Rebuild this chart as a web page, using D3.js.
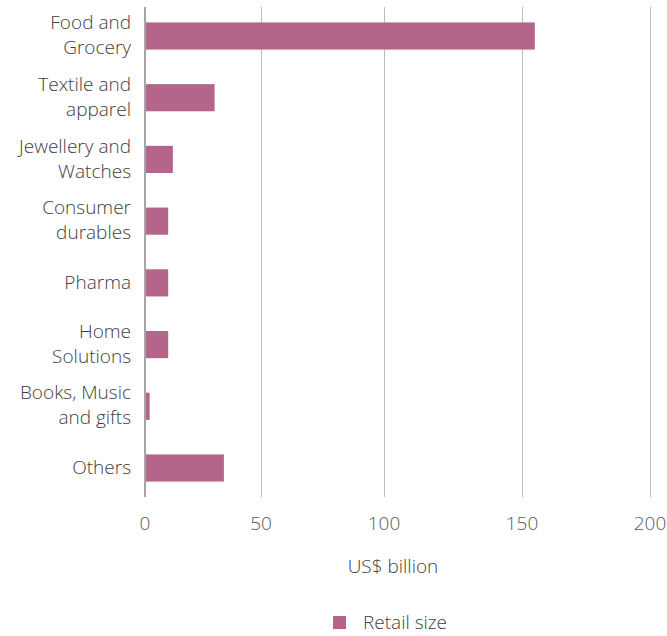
<!DOCTYPE html>
<html>
<head>
<meta charset="utf-8">
<script src="https://cdn.jsdelivr.net/npm/d3@7"></script>
<style>
  html, body { margin: 0; padding: 0; background: #fff; }
  svg { display: block; font-family: "Open Sans", sans-serif; font-weight: 300; }
</style>
</head>
<body>
<svg id="chart" width="667" height="636"></svg>
<script>
// Retail market size by segment (US$ billion)
const categories = [
  ["Food and", "Grocery"],
  ["Textile and", "apparel"],
  ["Jewellery and", "Watches"],
  ["Consumer", "durables"],
  ["Pharma"],
  ["Home", "Solutions"],
  ["Books, Music", "and gifts"],
  ["Others"]
];
const retailSize = [155, 30, 12, 10, 10, 10, 2, 34];
const xTicks = [0, 50, 100, 150, 200];
const seriesName = "Retail size";
const axisTitle = "US$ billion";

const barColor = "#b5648a";
const textColor = "#404040";

const svg = d3.select("#chart");
const plotTop = 7, plotBottom = 497;

// value axis: tick positions follow the printed layout of the gridlines
const x = d3.scaleLinear()
  .domain(xTicks)
  .range([145, 261, 384, 522, 650]);

const y = d3.scaleBand()
  .domain(d3.range(categories.length))
  .range([plotTop, plotBottom])
  .paddingInner(0.56)
  .paddingOuter(0.25);

// gridlines
svg.append("g")
  .selectAll("line")
  .data(xTicks.slice(1))
  .join("line")
  .attr("x1", d => x(d) + 0.5).attr("x2", d => x(d) + 0.5)
  .attr("y1", plotTop).attr("y2", plotBottom)
  .attr("stroke", "#bdbdbd").attr("stroke-width", 1);

// bars
svg.append("g")
  .selectAll("rect")
  .data(retailSize)
  .join("rect")
  .attr("x", x(0))
  .attr("y", (d, i) => y(i))
  .attr("width", d => x(d) - x(0))
  .attr("height", y.bandwidth())
  .attr("fill", barColor);

// category axis line
svg.append("line")
  .attr("x1", x(0)).attr("x2", x(0))
  .attr("y1", plotTop).attr("y2", plotBottom)
  .attr("stroke", "#a6a6a6").attr("stroke-width", 2);

// category labels
const lineH = 25;
const lab = svg.append("g")
  .attr("font-size", 19)
  .attr("fill", textColor)
  .attr("text-anchor", "end");
categories.forEach((lines, i) => {
  const cy = y(i) + y.bandwidth() / 2;
  const y0 = cy - (lines.length - 1) * lineH / 2 - 1;
  const t = lab.append("text");
  lines.forEach((s, j) => {
    t.append("tspan")
      .attr("x", 131)
      .attr("y", y0 + j * lineH)
      .attr("dy", "0.35em")
      .text(s);
  });
});

// value tick labels
svg.append("g")
  .attr("font-size", 19)
  .attr("fill", "#595959")
  .attr("text-anchor", "middle")
  .selectAll("text")
  .data(xTicks)
  .join("text")
  .attr("x", d => x(d))
  .attr("y", 523)
  .attr("dy", "0.35em")
  .text(d => d);

// axis title
svg.append("text")
  .attr("x", 393).attr("y", 566)
  .attr("dy", "0.35em")
  .attr("text-anchor", "middle")
  .attr("font-size", 19)
  .attr("fill", textColor)
  .text(axisTitle);

// legend
const leg = svg.append("g");
leg.append("rect")
  .attr("x", 333).attr("y", 616)
  .attr("width", 13).attr("height", 13)
  .attr("fill", barColor);
leg.append("text")
  .attr("x", 363).attr("y", 622)
  .attr("dy", "0.35em")
  .attr("font-size", 19)
  .attr("fill", textColor)
  .text(seriesName);
</script>
</body>
</html>
